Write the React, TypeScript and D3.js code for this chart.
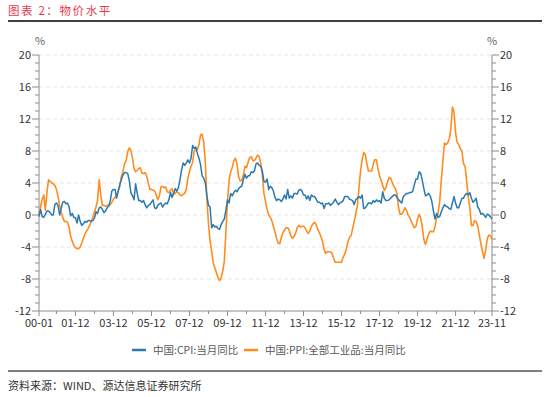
import React from "react";
import * as d3 from "d3";

// China CPI y/y, monthly 2000-01 .. 2023-11
const cpi2000s = [
  -0.2, 0.7, -0.2, -0.3, 0.1, 0.5, 0.5, 0.3, 0.0, 0.0, 1.3, 1.5,
  1.2, 0.0, 0.8, 1.6, 1.7, 1.4, 1.5, 1.0, -0.1, 0.2, -0.3, -0.3,
  -1.0, 0.0, -0.8, -1.3, -1.1, -0.8, -0.9, -0.7, -0.7, -0.8, -0.7, -0.4,
  0.4, 0.2, 0.9, 1.0, 0.7, 0.3, 0.5, 0.9, 1.1, 1.8, 3.0, 3.2,
  3.2, 2.1, 3.0, 3.8, 4.4, 5.0, 5.3, 5.3, 5.2, 4.3, 2.8, 2.4,
  1.9, 3.9, 2.7, 1.8, 1.8, 1.6, 1.8, 1.3, 0.9, 1.2, 1.3, 1.6,
  1.9, 0.9, 0.8, 1.2, 1.4, 1.5, 1.0, 1.3, 1.5, 1.4, 1.9, 2.8,
  2.2, 2.7, 3.3, 3.0, 3.4, 4.4, 5.6, 6.5, 6.2, 6.5, 6.9, 6.5,
  7.1, 8.7, 8.3, 8.5, 7.7, 7.1, 6.3, 4.9, 4.6, 4.0, 2.4, 1.2,
  1.0, -1.6, -1.2, -1.5, -1.4, -1.7, -1.8, -1.2, -0.8, -0.5, 0.6, 1.9,
];
const cpi2010s = [
  1.5, 2.7, 2.4, 2.8, 3.1, 2.9, 3.3, 3.5, 3.6, 4.4, 5.1, 4.6,
  4.9, 4.9, 5.4, 5.3, 5.5, 6.4, 6.5, 6.2, 6.1, 5.5, 4.2, 4.1,
  4.5, 3.2, 3.6, 3.4, 3.0, 2.2, 1.8, 2.0, 1.9, 1.7, 2.0, 2.5,
  2.0, 3.2, 2.1, 2.4, 2.1, 2.7, 2.7, 2.6, 3.1, 3.2, 3.0, 2.5,
  2.5, 2.0, 2.4, 1.8, 2.5, 2.3, 2.3, 2.0, 1.6, 1.6, 1.4, 1.5,
  0.8, 1.4, 1.4, 1.5, 1.2, 1.4, 1.6, 2.0, 1.6, 1.3, 1.5, 1.6,
  1.8, 2.3, 2.3, 2.3, 2.0, 1.9, 1.8, 1.3, 1.9, 2.1, 2.3, 2.1,
  2.5, 0.8, 0.9, 1.2, 1.5, 1.5, 1.4, 1.8, 1.6, 1.9, 1.7, 1.8,
  1.5, 2.9, 2.1, 1.8, 1.8, 1.9, 2.1, 2.3, 2.5, 2.5, 2.2, 1.9,
  1.7, 1.5, 2.3, 2.5, 2.7, 2.7, 2.8, 2.8, 3.0, 3.8, 4.5, 4.5,
];
const cpi2020s = [
  5.4, 5.2, 4.3, 3.3, 2.4, 2.5, 2.7, 2.4, 1.7, 0.5, -0.5, 0.2,
  -0.3, -0.2, 0.4, 0.9, 1.3, 1.1, 1.0, 0.8, 0.7, 1.5, 2.3, 1.5,
  0.9, 0.9, 1.5, 2.1, 2.1, 2.5, 2.7, 2.5, 2.8, 2.1, 1.6, 1.8,
  2.1, 1.0, 0.7, 0.1, 0.2, 0.0, -0.3, 0.1, 0.0, -0.2, -0.5,
];

// China PPI (all industrial products) y/y, monthly 2000-01 .. 2023-11
const ppi2000s = [
  0.0, 1.0, 2.0, 2.5, 0.6, 2.8, 4.4, 4.2, 4.0, 3.9, 3.7, 3.2,
  2.3, 1.2, 0.3, -0.3, -0.8, -0.8, -0.9, -1.5, -2.7, -3.3, -3.8, -4.1,
  -4.2, -4.2, -4.0, -3.5, -2.9, -2.4, -2.0, -1.7, -1.3, -0.8, -0.3, 0.4,
  1.0, 1.9, 4.4, 2.5, 1.2, 1.2, 1.1, 1.2, 1.2, 1.3, 1.6, 2.0,
  2.2, 2.4, 3.0, 3.6, 4.8, 5.4, 6.4, 6.8, 7.9, 8.4, 8.1, 7.1,
  5.8, 5.4, 5.6, 5.8, 5.9, 5.2, 5.2, 5.3, 4.9, 4.0, 3.2, 3.2,
  3.1, 3.0, 2.5, 1.9, 2.4, 3.5, 3.6, 3.4, 3.5, 2.9, 2.8, 3.1,
  3.3, 2.6, 2.7, 2.9, 2.8, 2.5, 2.4, 2.6, 2.7, 3.2, 4.6, 5.4,
  6.1, 6.6, 8.0, 8.1, 8.2, 8.8, 10.0, 10.1, 9.1, 6.6, 2.0, -1.1,
  -3.3, -4.5, -6.0, -6.6, -7.2, -7.8, -8.2, -7.9, -7.0, -5.8, -2.1, 1.7,
];
const ppi2010s = [
  4.3, 5.4, 5.9, 6.8, 7.1, 6.4, 4.8, 4.3, 4.3, 5.0, 6.1, 5.9,
  6.6, 7.2, 7.3, 6.8, 6.8, 7.1, 7.5, 7.3, 6.5, 5.0, 2.7, 1.7,
  0.7, 0.0, -0.3, -0.7, -1.4, -2.1, -2.9, -3.5, -3.6, -2.8, -2.2, -1.9,
  -1.6, -1.6, -1.9, -2.6, -2.9, -2.7, -2.3, -1.6, -1.3, -1.5, -1.4, -1.4,
  -1.6, -2.0, -2.3, -2.0, -1.4, -1.1, -0.9, -1.2, -1.8, -2.2, -2.7, -3.3,
  -4.3, -4.8, -4.6, -4.6, -4.6, -4.8, -5.4, -5.9, -5.9, -5.9, -5.9, -5.9,
  -5.3, -4.9, -4.3, -3.4, -2.8, -2.6, -1.7, -0.8, 0.1, 1.2, 3.3, 5.5,
  6.9, 7.8, 7.6, 6.4, 5.5, 5.5, 5.5, 6.3, 6.9, 6.9, 5.8, 4.9,
  4.3, 3.7, 3.1, 3.4, 4.1, 4.7, 4.6, 4.1, 3.6, 3.3, 2.7, 0.9,
  0.1, 0.1, 0.4, 0.9, 0.6, 0.0, -0.3, -0.8, -1.2, -1.6, -1.4, -0.5,
];
const ppi2020s = [
  0.1, -0.4, -1.5, -3.1, -3.7, -3.0, -2.4, -2.0, -2.1, -2.1, -1.5, -0.4,
  0.3, 1.7, 4.4, 6.8, 9.0, 8.8, 9.0, 9.5, 10.7, 13.5, 12.9, 10.3,
  9.1, 8.8, 8.3, 8.0, 6.4, 6.1, 4.2, 2.3, 0.9, -1.3, -1.3, -0.7,
  -0.8, -1.4, -2.5, -3.6, -4.6, -5.4, -4.4, -3.0, -2.5, -2.6, -3.0,
];

const cpi = [...cpi2000s, ...cpi2010s, ...cpi2020s];
const ppi = [...ppi2000s, ...ppi2010s, ...ppi2020s];

const xTickLabels = [
  "00-01", "01-12", "03-12", "05-12", "07-12", "09-12", "11-12",
  "13-12", "15-12", "17-12", "19-12", "21-12", "23-11",
];
const yTicks = [20, 16, 12, 8, 4, 0, -4, -8, -12];
const seriesNames = ["中国:CPI:当月同比", "中国:PPI:全部工业品:当月同比"];

const BLUE = "#2a7ab0";
const ORANGE = "#ff8c1f";
const AXIS = "#8c8c8c";
const FONT = "'Noto Sans CJK SC', 'Noto Sans', sans-serif";

const monthIndex = (label: string) => {
  const [yy, mm] = label.split("-").map(Number);
  return yy * 12 + mm - 1;
};

export default function App() {
  const width = 550;
  const height = 397;
  const left = 39;
  const right = 492;
  const top = 55;
  const bottom = 311;

  const x = d3.scaleLinear().domain([0, cpi.length - 1]).range([left, right]);
  const y = d3.scaleLinear().domain([-12, 20]).range([bottom, top]);

  const line = d3
    .line<number>()
    .x((_, i) => x(i))
    .y((d) => y(d));

  const majorX = xTickLabels.map(monthIndex);
  const minorX = d3.range(11, cpi.length, 24);
  const minorY = d3.range(-12, 21, 1).filter((v) => v % 4 !== 0);

  return (
    <svg
      width={width}
      height={height}
      style={{ position: "absolute", left: 0, top: 0, fontFamily: FONT }}
    >
      <rect width={width} height={height} fill="#fff" />
      <text x={8} y={15} fontSize={11.5} fill="#e8384f" letterSpacing={1.6}>
        图表 2：物价水平
      </text>
      <line x1={8} x2={542} y1={21} y2={21} stroke="#000" strokeWidth={1.5} />

      <text x={35} y={45} fontSize={11} fill="#666">%</text>
      <text x={487} y={45} fontSize={11} fill="#666">%</text>

      {yTicks
        .filter((v) => v > -12)
        .map((v) => (
          <line
            key={"g" + v}
            x1={left}
            x2={right}
            y1={y(v)}
            y2={y(v)}
            stroke="#e0e0e0"
            strokeWidth={0.8}
            strokeDasharray="4,3"
          />
        ))}

      {/* axes */}
      <line x1={left} x2={left} y1={top} y2={bottom} stroke={AXIS} />
      <line x1={right} x2={right} y1={top} y2={bottom} stroke={AXIS} />
      <line x1={left} x2={right} y1={bottom} y2={bottom} stroke={AXIS} />

      {yTicks.map((v) => (
        <g key={"yt" + v}>
          <line x1={left - 7} x2={left} y1={y(v)} y2={y(v)} stroke={AXIS} />
          <line x1={right} x2={right + 7} y1={y(v)} y2={y(v)} stroke={AXIS} />
          <text x={left - 8} y={y(v) + 4} fontSize={11} textAnchor="end" fill="#333">
            {v}
          </text>
          <text x={right + 8} y={y(v) + 4} fontSize={11} fill="#333">
            {v}
          </text>
        </g>
      ))}
      {minorY.map((v) => (
        <g key={"my" + v}>
          <line x1={left - 4} x2={left} y1={y(v)} y2={y(v)} stroke={AXIS} />
          <line x1={right} x2={right + 4} y1={y(v)} y2={y(v)} stroke={AXIS} />
        </g>
      ))}

      {majorX.map((m, i) => (
        <g key={"xt" + m}>
          <line x1={x(m)} x2={x(m)} y1={bottom} y2={bottom + 5} stroke={AXIS} />
          <text x={x(m)} y={bottom + 16} fontSize={11} textAnchor="middle" fill="#333">
            {xTickLabels[i]}
          </text>
        </g>
      ))}
      {minorX.map((m) => (
        <line key={"mx" + m} x1={x(m)} x2={x(m)} y1={bottom} y2={bottom + 3} stroke={AXIS} />
      ))}

      <path d={line(ppi) || ""} fill="none" stroke={ORANGE} strokeWidth={1.6} strokeLinejoin="round" />
      <path d={line(cpi) || ""} fill="none" stroke={BLUE} strokeWidth={1.5} strokeLinejoin="round" />

      {/* legend */}
      <line x1={132} x2={146} y1={350} y2={350} stroke={BLUE} strokeWidth={2.5} />
      <text x={153} y={354} fontSize={10.5} fill="#595959">{seriesNames[0]}</text>
      <line x1={244} x2={258} y1={350} y2={350} stroke={ORANGE} strokeWidth={2.5} />
      <text x={265} y={354} fontSize={10.5} fill="#595959">{seriesNames[1]}</text>

      <line x1={8} x2={542} y1={371} y2={371} stroke="#000" strokeWidth={1.2} />
      <text x={8} y={390} fontSize={11} fill="#333">
        资料来源：WIND、源达信息证券研究所
      </text>
    </svg>
  );
}
